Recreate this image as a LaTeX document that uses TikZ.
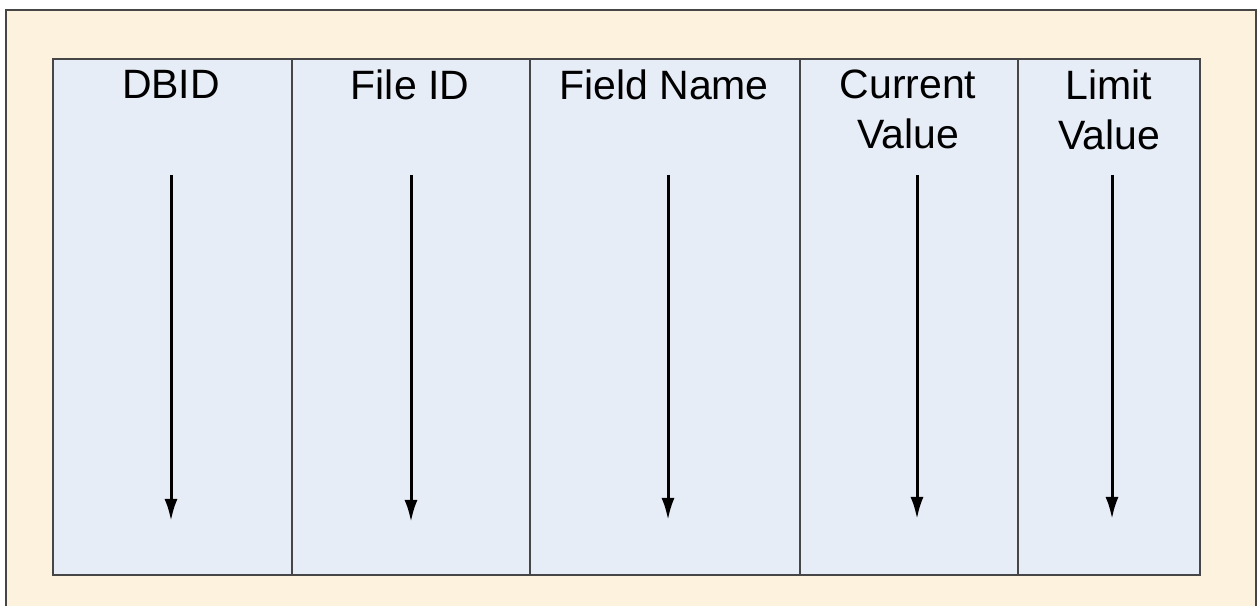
\documentclass[tikz,border=0pt]{standalone}
\usepackage{fontspec}
\setmainfont{Liberation Sans}
\usetikzlibrary{arrows.meta}
\definecolor{paper}{RGB}{253,242,221}
\definecolor{colfill}{RGB}{231,237,247}
\definecolor{rulegray}{RGB}{70,70,70}

\begin{document}
\begin{tikzpicture}[>={Latex[length=22bp,width=13bp]}]
      \tikzstyle{every node}=[font=\fontsize{41bp}{50bp}\selectfont]
      \tikzstyle{fieldcol}=[draw=rulegray,line width=1.8bp,fill=colfill,minimum height=516bp,inner sep=0pt,anchor=north west]
      \tikzstyle{fieldhead}=[anchor=north,inner sep=0pt,align=center]
      %%
\useasboundingbox (0bp,0bp) rectangle (1259bp,606bp);
  \node (frame) at (5bp,597bp) [draw=rulegray,line width=2.2bp,fill=paper,minimum width=1250bp,minimum height=610bp,inner sep=0pt,anchor=north west] {};
  \node (c_dbid) at (52bp,548bp) [fieldcol,minimum width=239bp] {};
  \node (c_file) at (291bp,548bp) [fieldcol,minimum width=238bp] {};
  \node (c_field) at (529bp,548bp) [fieldcol,minimum width=270bp] {};
  \node (c_cur) at (799bp,548bp) [fieldcol,minimum width=218bp] {};
  \node (c_lim) at (1017bp,548bp) [fieldcol,minimum width=182bp] {};
  \node (h_dbid) at (171bp,536bp) [fieldhead] {DBID};
  \node (h_file) at (410bp,536bp) [fieldhead] {File ID};
  \node (h_field) at (664bp,536bp) [fieldhead] {Field Name};
  \node (h_cur) at (908bp,536bp) [fieldhead] {Current\\Value};
  \node (h_lim) at (1109bp,536bp) [fieldhead] {Limit\\Value};
  \coordinate (a_dbid) at (171bp,431bp);
  \coordinate (b_dbid) at (171bp,85bp);
  \coordinate (a_file) at (411bp,431bp);
  \coordinate (b_file) at (411bp,84bp);
  \coordinate (a_field) at (668bp,431bp);
  \coordinate (b_field) at (668bp,86bp);
  \coordinate (a_cur) at (917bp,431bp);
  \coordinate (b_cur) at (917bp,87bp);
  \coordinate (a_lim) at (1112bp,431bp);
  \coordinate (b_lim) at (1112bp,87bp);
  \draw [->,line width=3bp] (a_dbid) -- (b_dbid);
  \draw [->,line width=3bp] (a_file) -- (b_file);
  \draw [->,line width=3bp] (a_field) -- (b_field);
  \draw [->,line width=3bp] (a_cur) -- (b_cur);
  \draw [->,line width=3bp] (a_lim) -- (b_lim);
%

    \end{tikzpicture}
\end{document}
